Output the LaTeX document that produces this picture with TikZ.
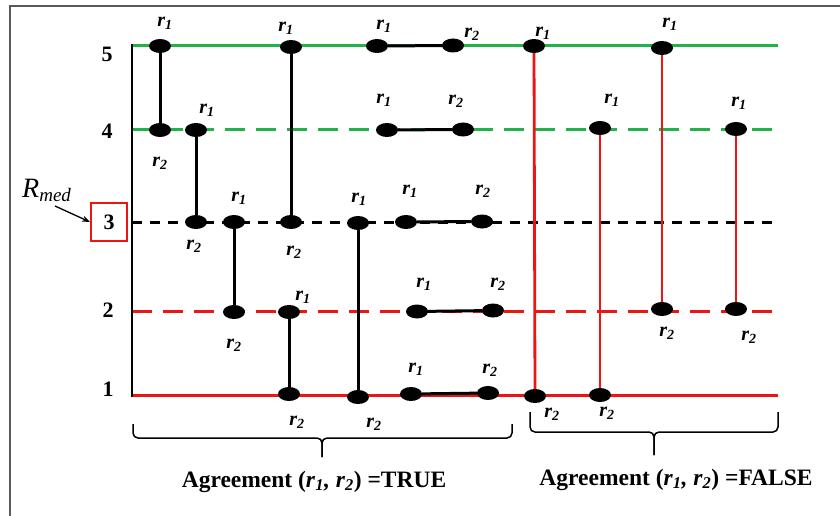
\documentclass[tikz,border=0pt]{standalone}
\usepackage{fontspec}
\setmainfont{Liberation Serif}
\usetikzlibrary{shapes.geometric,arrows.meta}
\definecolor{lgreen}{RGB}{34,178,76}
\definecolor{lred}{RGB}{238,20,20}
\definecolor{framegray}{RGB}{90,90,90}
\newcommand\rlab[1]{\textit{r}\textsubscript{\textit{#1}}}
\begin{document}
\begin{tikzpicture}[x=1pt,y=-1pt,
  dot/.style={ellipse,fill=black,minimum width=22pt,minimum height=14pt,inner sep=0pt},
  lab/.style={font=\fontsize{20}{22}\selectfont\bfseries\itshape,inner sep=0pt},
  num/.style={font=\fontsize{22}{24}\selectfont\bfseries,inner sep=0pt,anchor=base},
  pairline/.style={line width=3pt,black},
  redpair/.style={line width=2.8pt,lred},
  level/.style={line width=3pt},
  bracestyle/.style={line width=1.5pt,black,rounded corners=5pt},
  caption/.style={font=\fontsize{23.5}{26}\selectfont\bfseries,inner sep=0pt,anchor=base}
]
\useasboundingbox (0,0) rectangle (840,516);
\fill[white] (0,0) rectangle (840,516);
% frame
\coordinate (fTL) at (10,6.5);
\coordinate (fTR) at (840,6.5);
\coordinate (fBL) at (10,516);
\draw[framegray,line width=2pt] (fBL) -- (fTL) -- (fTR);

% level coordinates
\coordinate (L5a) at (132,46);  \coordinate (L5b) at (778,46);
\coordinate (L4a) at (132,130); \coordinate (L4b) at (778,130);
\coordinate (L3a) at (132,222); \coordinate (L3b) at (778,222);
\coordinate (L2a) at (132,311); \coordinate (L2b) at (778,311);
\coordinate (L1a) at (132,395); \coordinate (L1b) at (778,395);
\draw[level,lgreen] (L5a) -- (L5b);
\draw[level,lgreen,dash pattern=on 20pt off 11pt] (L4a) -- (L4b);
\draw[level,black,dash pattern=on 10pt off 8pt] (L3a) -- (L3b);
\draw[level,lred,dash pattern=on 20pt off 11pt] (L2a) -- (L2b);
\draw[level,lred] (L1a) -- (L1b);
% axis
\coordinate (axT) at (132,44.5);
\coordinate (axB) at (132,396.5);
\draw[line width=2.8pt,black] (axT) -- (axB);

% level numbers
\node[num] (n5) at (107,62) {5};
\node[num] (n4) at (107,139) {4};
\node[num,draw=lred,line width=2pt,minimum width=36pt,minimum height=38pt,anchor=center] (box3) at (109,222) {3};
\node[num] (n2) at (108,317) {2};
\node[num] (n1) at (108,396) {1};

% R_med
\node[inner sep=0pt,anchor=base west] (rmed) at (22,197)
  {{\fontsize{28}{30}\selectfont\itshape R}\raisebox{-4pt}{\fontsize{19}{21}\selectfont\itshape med}};
\coordinate (rarr) at (55,206);
\draw[line width=1.3pt,-{Stealth[length=8pt,width=6pt]}] (rarr) -- (box3.west);

% dots
\node[dot] (a1) at (160,46) {};  \node[dot] (a2) at (160,130) {};
\node[dot] (b1) at (196,130) {}; \node[dot] (b2) at (196,222) {};
\node[dot] (c1) at (234,222) {}; \node[dot] (c2) at (234,312) {};
\node[dot] (d1) at (291,47) {};  \node[dot] (d2) at (291,222) {};
\node[dot] (e1) at (289,312) {}; \node[dot] (e2) at (289,394) {};
\node[dot] (f1) at (358,223) {}; \node[dot] (f2) at (358,397) {};
\node[dot] (g1) at (377,46) {};  \node[dot] (g2) at (453,45.5) {};
\node[dot] (h1) at (387,130) {}; \node[dot] (h2) at (463,129.5) {};
\node[dot] (i1) at (406,222) {}; \node[dot] (i2) at (482,221.5) {};
\node[dot] (j1) at (417,311.5) {}; \node[dot] (j2) at (493,310.5) {};
\node[dot] (k1) at (411,394) {}; \node[dot] (k2) at (488,393) {};
\node[dot] (m1) at (534,46) {};  \node[dot] (m2) at (535,396) {};
\node[dot] (p1) at (600,128) {}; \node[dot] (p2) at (600,395) {};
\node[dot] (o1) at (662,48) {};  \node[dot] (o2) at (662,309) {};
\node[dot] (q1) at (736,129) {}; \node[dot] (q2) at (736,309) {};

% connectors
\draw[pairline] (a1) -- (a2);
\draw[pairline] (b1) -- (b2);
\draw[pairline] (c1) -- (c2);
\draw[pairline] (d1) -- (d2);
\draw[pairline] (e1) -- (e2);
\draw[pairline] (f1) -- (f2);
\draw[pairline] (g1) -- (g2);
\draw[pairline] (h1) -- (h2);
\draw[pairline] (i1) -- (i2);
\draw[pairline] (j1) -- (j2);
\draw[pairline] (k1) -- (k2);
\draw[redpair] (m1) -- (m2);
\draw[redpair] (p1) -- (p2);
\draw[redpair] (o1) -- (o2);
\draw[redpair] (q1) -- (q2);

% labels
\node[lab] (la1) at (165,23) {\rlab{1}};  \node[lab] (la2) at (160,163) {\rlab{2}};
\node[lab] (lb1) at (207,110) {\rlab{1}}; \node[lab] (lb2) at (194,246) {\rlab{2}};
\node[lab] (lc1) at (239,198) {\rlab{1}}; \node[lab] (lc2) at (234,345) {\rlab{2}};
\node[lab] (ld1) at (286,28) {\rlab{1}};  \node[lab] (ld2) at (294,252) {\rlab{2}};
\node[lab] (le1) at (303,297) {\rlab{1}}; \node[lab] (le2) at (297,422) {\rlab{2}};
\node[lab] (lf1) at (359,199) {\rlab{1}}; \node[lab] (lf2) at (374,424) {\rlab{2}};
\node[lab] (lg1) at (384,26) {\rlab{1}};  \node[lab] (lg2) at (472,34) {\rlab{2}};
\node[lab] (lh1) at (384,100) {\rlab{1}}; \node[lab] (lh2) at (456,101) {\rlab{2}};
\node[lab] (li1) at (410,191) {\rlab{1}}; \node[lab] (li2) at (483,191) {\rlab{2}};
\node[lab] (lj1) at (424,284) {\rlab{1}}; \node[lab] (lj2) at (498,284) {\rlab{2}};
\node[lab] (lk1) at (416,369) {\rlab{1}}; \node[lab] (lk2) at (490,370) {\rlab{2}};
\node[lab] (lm1) at (543,33) {\rlab{1}};  \node[lab] (lm2) at (552,414) {\rlab{2}};
\node[lab] (lp1) at (612,100) {\rlab{1}}; \node[lab] (lp2) at (607,413) {\rlab{2}};
\node[lab] (lo1) at (670,24) {\rlab{1}};  \node[lab] (lo2) at (667,333) {\rlab{2}};
\node[lab] (lq1) at (739,103) {\rlab{1}}; \node[lab] (lq2) at (749,337) {\rlab{2}};

% braces
\draw[bracestyle] (133,424) -- (133,438) -- (322,438) -- (322,457);
\draw[bracestyle] (512,424) -- (512,438) -- (322,438) -- (322,457);
\draw[bracestyle] (530,412) -- (530,432) -- (654,432) -- (654,455);
\draw[bracestyle] (778,412) -- (778,432) -- (654,432) -- (654,455);

% captions
\node[caption] (capT) at (314,487) {Agreement (\textit{r}\textsubscript{\textit{1}}\textit{,} \textit{r}\textsubscript{\textit{2}}) =TRUE};
\node[caption] (capF) at (676,485) {Agreement (\textit{r}\textsubscript{\textit{1}}\textit{,} \textit{r}\textsubscript{\textit{2}}) =FALSE};
\end{tikzpicture}
\end{document}
